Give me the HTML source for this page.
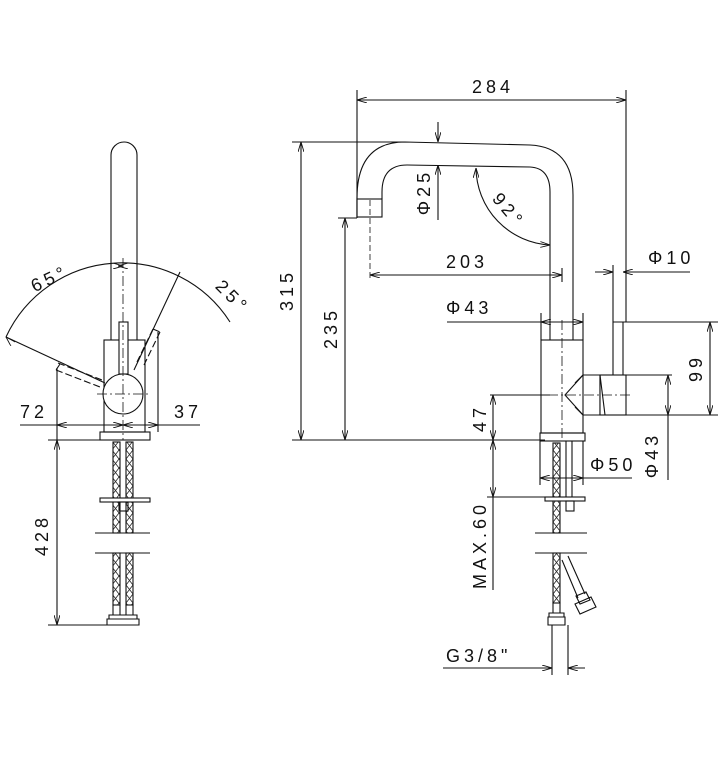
<!DOCTYPE html>
<html><head><meta charset="utf-8"><style>
html,body{margin:0;padding:0;background:#fff;}
svg{display:block}
text{font-family:"Liberation Sans",sans-serif;font-size:18px;fill:#111;letter-spacing:4px}
</style></head><body>
<svg width="725" height="774" viewBox="0 0 725 774" xmlns="http://www.w3.org/2000/svg">
<defs>
<pattern id="x" width="7" height="9" patternUnits="userSpaceOnUse"><path d="M0 0L7 9M7 0L0 9" stroke="#222" stroke-width="0.8"/></pattern>
<marker id="a" markerWidth="10" markerHeight="6" refX="10" refY="3" orient="auto-start-reverse" markerUnits="userSpaceOnUse"><path d="M0 0L10 3L0 6" fill="none" stroke="#111" stroke-width="0.9"/></marker>
</defs>
<g fill="none" stroke="#111" stroke-width="1.1">
<!-- LEFT VIEW -->
<path d="M111 340V155a13 13 0 0 1 26 0V340"/>
<rect x="104" y="340" width="41" height="92" fill="#fff"/>
<rect x="100" y="432" width="50" height="8"/>
<rect x="119" y="322" width="9" height="52" fill="#fff"/>
<circle cx="123" cy="394" r="20" fill="#fff"/>
<path d="M123 258V440" stroke-dasharray="10 3 2 3" stroke-width="0.8"/>
<path d="M97 394H150" stroke-dasharray="10 3 2 3" stroke-width="0.8"/>
<path d="M6 337A128 128 0 0 1 230 322"/>
<path d="M118 266 L123 266" marker-start="url(#a)" marker-end="url(#a)" stroke-width="0.8"/>
<path d="M7 338 L6 337" marker-end="url(#a)"/>
<path d="M6 337L105 383"/>
<path d="M180 272L134 370"/>
<path d="M58 363L102 380M56 370L100 387M60 364l-4 6" stroke-dasharray="7 3"/>
<path d="M153 329L137 362M160 332L144 365M153 329l7 3" stroke-dasharray="7 3"/>
<path d="M57 368V440M158 332V432"/>
<path d="M20 425H200"/>
<path d="M57 425H123" marker-start="url(#a)" marker-end="url(#a)"/>
<path d="M123 425H158" marker-start="url(#a)" marker-end="url(#a)"/>
<path d="M48 440H110M48 625H110"/>
<path d="M57 440V625" marker-start="url(#a)" marker-end="url(#a)"/>
<rect x="113" y="442" width="7" height="91" fill="url(#x)"/>
<rect x="126" y="442" width="7" height="91" fill="url(#x)"/>
<rect x="113" y="553" width="7" height="52" fill="url(#x)"/>
<rect x="126" y="553" width="7" height="52" fill="url(#x)"/>
<rect x="100" y="498" width="50" height="4" fill="#fff"/>
<rect x="119" y="502" width="9" height="9"/>
<path d="M95 533H150M95 553H150"/>
<path d="M113 605h7v10h-7zM126 605h7v10h-7zM109 615h28v4h-28zM107 619h32v6h-32z"/>
<!-- RIGHT VIEW -->
<path d="M357 218V198Q357 142 405 142L530 145Q573 147 573 195V340"/>
<path d="M382 199V192Q382 165 407 165L530 167Q550 168 550 192V340"/>
<rect x="357" y="199" width="25" height="18" fill="#fff"/>
<path d="M370 200V280" stroke-dasharray="6 3" stroke-width="0.8"/>
<rect x="541" y="340" width="42" height="93" fill="#fff"/>
<rect x="540" y="433" width="45" height="8"/>
<path d="M562 320V441" stroke-dasharray="10 3 2 3" stroke-width="0.8"/>
<path d="M583 375L600 375V415L583 415M583 375L565 395L583 415"/>
<path d="M583 375l-8 8M583 415l-8-8"/>
<rect x="600" y="375" width="26" height="40" fill="#fff"/>
<path d="M613 322V375M623 322V375M600 375l5 40"/>
<path d="M548 395H633" stroke-dasharray="10 3 2 3" stroke-width="0.8"/>
<!-- dims right -->
<path d="M357 90V218M626 90V322"/>
<path d="M357 100H626" marker-start="url(#a)" marker-end="url(#a)"/>
<path d="M292 142H405M292 440H545"/>
<path d="M301 142V440" marker-start="url(#a)" marker-end="url(#a)"/>
<path d="M338 218H357"/>
<path d="M345 218V440" marker-start="url(#a)" marker-end="url(#a)"/>
<path d="M438 122V142" marker-end="url(#a)"/>
<path d="M438 165V220" marker-start="url(#a)"/>
<path d="M476 168A78 78 0 0 0 550 245" marker-start="url(#a)" marker-end="url(#a)"/>
<path d="M370 275H562" marker-start="url(#a)" marker-end="url(#a)"/>
<path d="M562 268V282"/>
<path d="M595 272H613" marker-end="url(#a)"/>
<path d="M623 272H690" marker-start="url(#a)"/>
<path d="M613 265V322"/>
<path d="M447 322H583M541 313V340M583 313V340"/>
<path d="M541 322H583" marker-start="url(#a)" marker-end="url(#a)"/>
<path d="M613 322H718M600 415H718"/>
<path d="M710 322V415" marker-start="url(#a)" marker-end="url(#a)"/>
<path d="M600 375H672"/>
<path d="M668 375V415" marker-start="url(#a)" marker-end="url(#a)"/>
<path d="M668 415V480"/>
<path d="M490 395H550M487 497H583"/>
<path d="M493 395V440" marker-start="url(#a)" marker-end="url(#a)"/>
<path d="M493 440V497" marker-start="url(#a)" marker-end="url(#a)"/>
<path d="M493 497V590"/>
<path d="M540 441V485M583 441V485"/>
<path d="M540 478H583" marker-start="url(#a)" marker-end="url(#a)"/>
<path d="M583 478H632"/>
<!-- right hoses -->
<rect x="553" y="443" width="7" height="90" fill="url(#x)"/>
<path d="M566 441V498M572 441V498"/>
<rect x="545" y="497" width="40" height="4" fill="#fff"/>
<rect x="566" y="501" width="8" height="10"/>
<path d="M535 533H587M535 553H587"/>
<rect x="553" y="553" width="7" height="50" fill="url(#x)"/>
<path d="M562 560L578 598M568 556L585 594" />
<path d="M576 596l10-4 4 8-10 4zM575 604l16-7 5 10-16 7z"/>
<path d="M553 603h7v10h-7zM549 613h15v4h-15zM548 617h17v8h-17zM552 625V675M568 625V675"/>
<path d="M443 668H552" marker-end="url(#a)"/>
<path d="M568 668H585" marker-start="url(#a)"/>
</g>
<text x="30" y="288" transform="rotate(-25 42 280)">65°</text>
<text x="212" y="297" transform="rotate(45 225 295)">25°</text>
<text x="20" y="418">72</text>
<text x="174" y="418">37</text>
<text transform="translate(48 535) rotate(-90)" text-anchor="middle">428</text>
<text x="472" y="93">284</text>
<text transform="translate(293 290) rotate(-90)" text-anchor="middle">315</text>
<text transform="translate(337 328) rotate(-90)" text-anchor="middle">235</text>
<text transform="translate(430 192) rotate(-90)" text-anchor="middle">Φ25</text>
<text x="491" y="212" transform="rotate(50 505 206)">92°</text>
<text x="446" y="268">203</text>
<text x="648" y="264">Φ10</text>
<text x="446" y="314">Φ43</text>
<text transform="translate(702 368) rotate(-90)" text-anchor="middle">99</text>
<text transform="translate(658 455) rotate(-90)" text-anchor="middle">Φ43</text>
<text transform="translate(486 418) rotate(-90)" text-anchor="middle">47</text>
<text x="590" y="471">Φ50</text>
<text transform="translate(486 545) rotate(-90)" text-anchor="middle">MAX.60</text>
<text x="446" y="662">G3/8"</text>
</svg>
</body></html>
